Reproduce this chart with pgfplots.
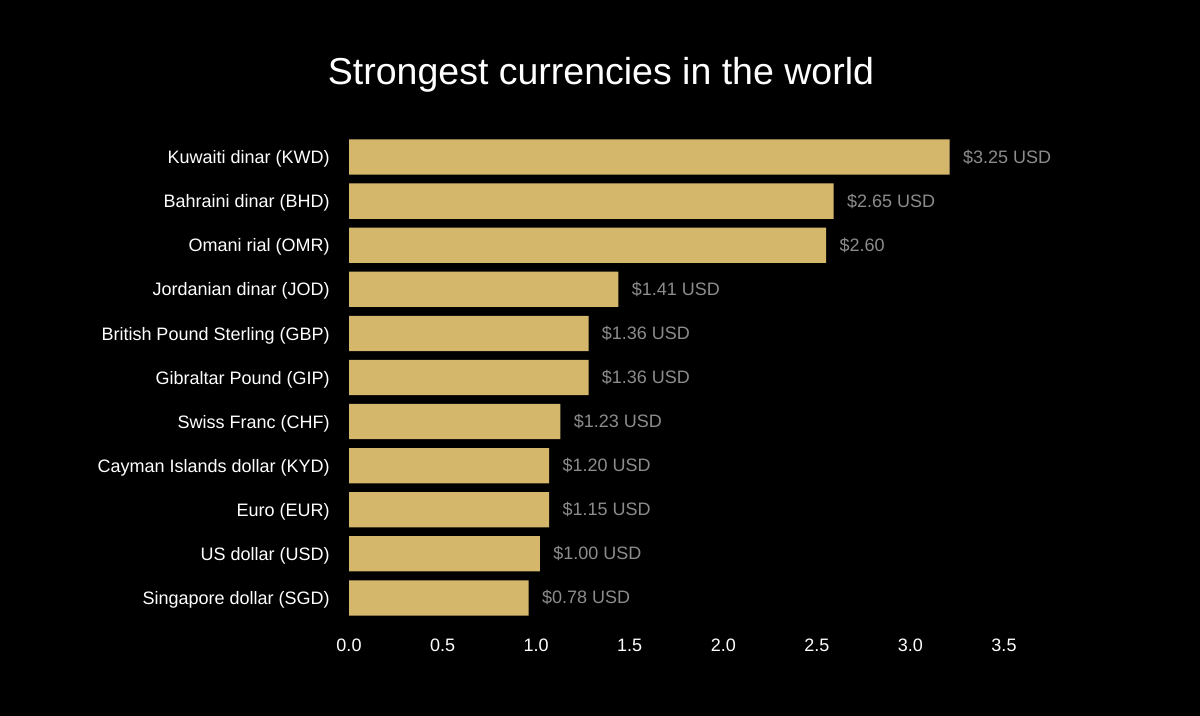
\documentclass[border=0pt]{standalone}
\usepackage{fontspec}
\setmainfont{Liberation Sans}
\usepackage{pgfplots}
\pgfplotsset{compat=1.18}
\definecolor{barc}{HTML}{D4B76A}
\definecolor{vgray}{HTML}{8C8C8C}
\begin{document}
\begin{tikzpicture}
\path[fill=black, use as bounding box] (0,0) rectangle (600bp,358bp);
\node[anchor=base, text=white, font=\fontsize{18.75bp}{22bp}\selectfont, inner sep=0pt] at (300.5bp,315.5bp) {Strongest currencies in the world};
\begin{axis}[
  at={(174.5bp,48bp)}, anchor=south west,
  scale only axis, width=327.5bp, height=242.5bp,
  xbar, bar width=0.8,
  xmin=0, xmax=3.5, ymin=-0.5, ymax=10.5,
  clip=false,
  axis line style={draw=none}, major tick length=0pt,
  xtick={0,0.5,1,1.5,2,2.5,3,3.5},
  ytick={0,1,2,3,4,5,6,7,8,9,10},
  yticklabels={Singapore dollar (SGD),US dollar (USD),Euro (EUR),Cayman Islands dollar (KYD),Swiss Franc (CHF),Gibraltar Pound (GIP),British Pound Sterling (GBP),Jordanian dinar (JOD),Omani rial (OMR),Bahraini dinar (BHD),Kuwaiti dinar (KWD)},
  /pgf/number format/assume math mode=true,
  xticklabel style={/pgf/number format/fixed, /pgf/number format/fixed zerofill, /pgf/number format/precision=1},
  tick label style={text=white, font=\fontsize{9bp}{11bp}\selectfont, inner sep=0pt},
  yticklabel style={anchor=east, xshift=-9.5bp, yshift=-1bp},
  xticklabel style={anchor=north, yshift=-9.5bp},
]
\addplot[fill=barc, draw=none, point meta=explicit symbolic,
  nodes near coords,
  nodes near coords style={text=vgray, font=\fontsize{9bp}{11bp}\selectfont, inner sep=0pt, anchor=west, xshift=6.5bp}]
coordinates {
  (0.96,0) [\$0.78 USD]
  (1.02,1) [\$1.00 USD]
  (1.07,2) [\$1.15 USD]
  (1.07,3) [\$1.20 USD]
  (1.13,4) [\$1.23 USD]
  (1.28,5) [\$1.36 USD]
  (1.28,6) [\$1.36 USD]
  (1.44,7) [\$1.41 USD]
  (2.55,8) [\$2.60]
  (2.59,9) [\$2.65 USD]
  (3.21,10) [\$3.25 USD]
};
\end{axis}
\end{tikzpicture}
\end{document}
